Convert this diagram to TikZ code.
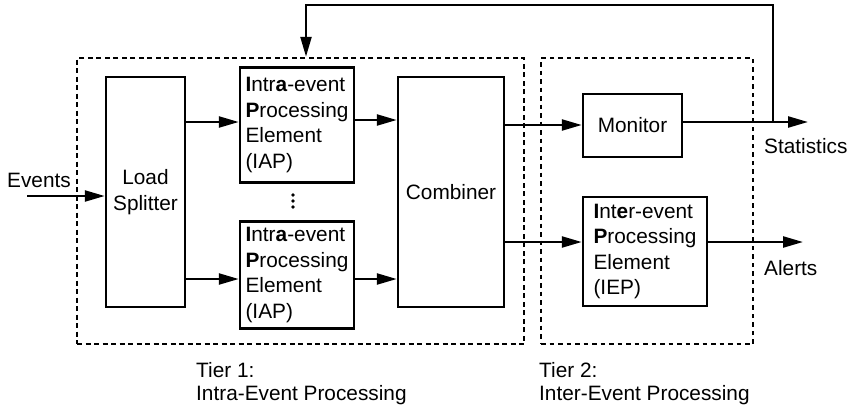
\documentclass[tikz,border=0pt]{standalone}
\usepackage{fontspec}
\setmainfont{Liberation Sans}
\usetikzlibrary{arrows.meta}
\begin{document}
\begin{tikzpicture}[x=1pt,y=-1pt,
  every node/.style={font=\fontsize{20.8}{25.5}\selectfont},
  blk/.style={draw, line width=2.5pt, inner sep=0pt, align=center},
  blkl/.style={draw, line width=2.5pt, inner sep=0pt, align=left},
  arr/.style={line width=2.4pt, -{Triangle[length=20pt,width=11pt]}},
  tierone/.style={draw, line width=2.5pt, dash pattern=on 5pt off 3.5pt, inner sep=0pt},
  tiertwo/.style={draw, line width=1.5pt, dash pattern=on 4.5pt off 4pt, inner sep=0pt},
  lbl/.style={inner sep=0pt, anchor=base west, align=left},
  tierlbl/.style={lbl, font=\fontsize{20.8}{23}\selectfont}]
\useasboundingbox (0,0) rectangle (853,407);
% tiers
\node[tierone, minimum width=447pt, minimum height=286pt] (t1) at (300.5,201) {};
\node[tiertwo, minimum width=212pt, minimum height=286pt] (t2) at (647,201) {};
% blocks
\node[blk, minimum width=79pt, minimum height=230pt] (ls) at (145.5,192) {Load\\Splitter};
\node[blkl, minimum width=114pt, minimum height=115pt] (iapa) at (297,125) {\textbf{I}ntr\textbf{a}-event\\\textbf{P}rocessing\\Element\\(IAP)};
\node[blkl, minimum width=114pt, minimum height=107pt] (iapb) at (297,275) {\textbf{I}ntr\textbf{a}-event\\\textbf{P}rocessing\\Element\\(IAP)};
\node[blk, minimum width=106pt, minimum height=230pt] (comb) at (451,192) {Combiner};
\node[blk, minimum width=99pt, minimum height=63pt] (mon) at (632.5,125.5) {Monitor};
\node[blkl, minimum width=124pt, minimum height=109pt] (iep) at (645,251.5) {\textbf{I}nt\textbf{e}r-event\\\textbf{P}rocessing\\Element\\(IEP)};
% dots
\foreach \yy/\nm in {195/da,201/db,207/dc}
  \node[circle, fill, inner sep=0pt, minimum size=3.6pt] (\nm) at (293,\yy) {};
% labels
\node[lbl] (ev) at (7,187) {Events};
\node[lbl] (st) at (764,153) {Statistics};
\node[lbl] (al) at (764,275) {Alerts};
\node[tierlbl] (tl1) at (196,400) {Tier 1:\\Intra-Event Processing};
\node[tierlbl] (tl2) at (539,400) {Tier 2:\\Inter-Event Processing};
% coordinates
\coordinate (evs) at (27,196);
\coordinate (sto) at (808,122);
\coordinate (alo) at (803,242);
\coordinate (fb) at (773,122);
\coordinate (fbtop) at (306,5);
% connectors
\draw[arr] (evs) -- (ls.west |- evs);
\draw[arr] (ls.east |- 0,122) -- (iapa.west |- 0,122);
\draw[arr] (iapa.east |- 0,120) -- (comb.west |- 0,120);
\draw[arr] (ls.east |- 0,279) -- (iapb.west |- 0,279);
\draw[arr] (iapb.east |- 0,279) -- (comb.west |- 0,279);
\draw[arr] (comb.east |- 0,125) -- (mon.west |- 0,125);
\draw[arr] (comb.east |- 0,242) -- (iep.west |- 0,242);
\draw[arr] (mon.east |- sto) -- (sto);
\draw[arr] (iep.east |- alo) -- (alo);
\draw[arr] (fb) |- (fbtop) -- (fbtop |- t1.north);
\end{tikzpicture}
\end{document}
